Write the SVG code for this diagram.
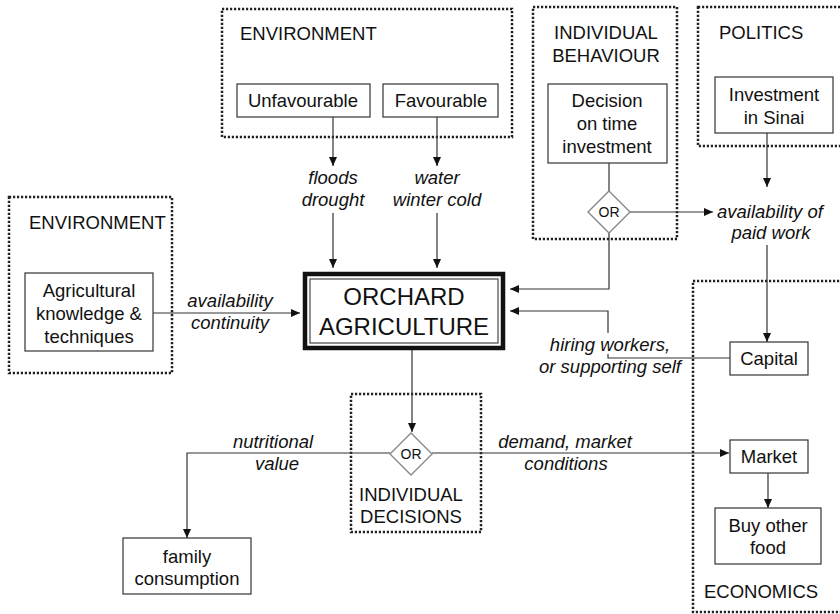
<svg xmlns="http://www.w3.org/2000/svg" width="840" height="614" viewBox="0 0 840 614">
<defs>
<style>
.grp{fill:none;stroke:#222;stroke-width:2.5;stroke-dasharray:2.2 1.8}
.box{fill:#fff;stroke:#333;stroke-width:1.2}
.dia{fill:#fff;stroke:#888;stroke-width:1.4}
.t{font-family:"Liberation Sans",Arial,sans-serif;font-size:18.5px;fill:#111}
.c{text-anchor:middle}
.i{font-style:italic}
.or{font-family:"Liberation Sans",Arial,sans-serif;font-size:14px;fill:#111;text-anchor:middle}
.big{font-family:"Liberation Sans",Arial,sans-serif;font-size:24px;fill:#111;text-anchor:middle}
.ln{fill:none;stroke:#333;stroke-width:1.2}
.ar{fill:none;stroke:#333;stroke-width:1.2;marker-end:url(#ah)}
</style>
<marker id="ah" markerUnits="userSpaceOnUse" markerWidth="10" markerHeight="10" viewBox="0 0 10 10" refX="9" refY="5" orient="auto">
<path d="M0,1 L9,5 L0,9 z" fill="#111"/>
</marker>
</defs>
<rect width="840" height="614" fill="#fff"/>

<g id="group-environment-top">
<rect class="grp" x="222" y="9" width="290" height="128"/>
<text class="t" x="240" y="40">ENVIRONMENT</text>
</g>
<g id="group-individual-behaviour">
<rect class="grp" x="533" y="7" width="144" height="232"/>
<text class="t c" x="606" y="39">INDIVIDUAL</text>
<text class="t c" x="606" y="62">BEHAVIOUR</text>
</g>
<g id="group-politics">
<rect class="grp" x="698" y="7" width="160" height="139"/>
<text class="t" x="719" y="39">POLITICS</text>
</g>
<g id="group-environment-left">
<rect class="grp" x="9" y="197" width="163" height="176"/>
<text class="t" x="29" y="229">ENVIRONMENT</text>
</g>
<g id="group-individual-decisions">
<rect class="grp" x="351" y="394" width="130" height="138"/>
<text class="t c" x="411" y="501">INDIVIDUAL</text>
<text class="t c" x="411" y="523">DECISIONS</text>
</g>
<g id="group-economics">
<rect class="grp" x="693" y="281" width="165" height="331"/>
<text class="t" x="704" y="598">ECONOMICS</text>
</g>

<g id="connectors">
<line class="ar" x1="333" y1="117" x2="333" y2="166"/>
<line class="ar" x1="437" y1="117" x2="437" y2="166"/>
<line class="ar" x1="333" y1="213" x2="333" y2="268"/>
<line class="ar" x1="437" y1="213" x2="437" y2="268"/>
<line class="ar" x1="153" y1="313" x2="300" y2="313"/>
<line class="ln" x1="609" y1="163" x2="609" y2="191"/>
<line class="ar" x1="630" y1="212" x2="713" y2="212"/>
<polyline class="ar" points="609,233 609,289 510,289"/>
<line class="ar" x1="767" y1="133" x2="767" y2="187"/>
<line class="ar" x1="767" y1="245" x2="767" y2="342"/>
<polyline class="ar" points="730,358 608,358 608,311 510,311"/>
<line class="ar" x1="412" y1="350" x2="412" y2="432"/>
<polyline class="ar" points="390,453 187,453 187,538"/>
<line class="ar" x1="432" y1="453" x2="729" y2="453"/>
<line class="ar" x1="768" y1="473" x2="768" y2="508"/>
</g>

<g id="labels">
<text class="t c i" x="333" y="184">floods</text>
<text class="t c i" x="333" y="206">drought</text>
<text class="t c i" x="437" y="184">water</text>
<text class="t c i" x="437" y="206">winter cold</text>
<text class="t c i" x="230" y="307">availability</text>
<text class="t c i" x="230" y="329">continuity</text>
<text class="t i" x="717" y="218">availability of</text>
<text class="t c i" x="771" y="239">paid work</text>
<rect x="544" y="333" width="132" height="21" fill="#fff"/>
<text class="t c i" x="610" y="351">hiring workers,</text>
<text class="t c i" x="610" y="373">or supporting self</text>
<text class="t c i" x="273" y="448">nutritional</text>
<text class="t c i" x="277" y="470">value</text>
<text class="t c i" x="565" y="448">demand, market</text>
<text class="t c i" x="566" y="470">conditions</text>
</g>

<g id="node-unfavourable">
<rect class="box" x="237" y="84" width="133" height="33"/>
<text class="t c" x="303" y="107">Unfavourable</text>
</g>
<g id="node-favourable">
<rect class="box" x="383" y="84" width="115" height="33"/>
<text class="t c" x="441" y="107">Favourable</text>
</g>
<g id="node-decision">
<rect class="box" x="548" y="84" width="119" height="79"/>
<text class="t c" x="607" y="107">Decision</text>
<text class="t c" x="607" y="130">on time</text>
<text class="t c" x="607" y="153">investment</text>
</g>
<g id="node-or-top">
<polygon class="dia" points="609,191 630,212 609,233 588,212"/>
<text class="or" x="609" y="217">OR</text>
</g>
<g id="node-investment">
<rect class="box" x="715" y="77" width="118" height="56"/>
<text class="t c" x="774" y="101">Investment</text>
<text class="t c" x="774" y="124">in Sinai</text>
</g>
<g id="node-agricultural">
<rect class="box" x="25" y="273" width="128" height="78"/>
<text class="t c" x="89" y="297">Agricultural</text>
<text class="t c" x="89" y="320">knowledge &amp;</text>
<text class="t c" x="89" y="343">techniques</text>
</g>
<g id="node-orchard">
<rect x="305" y="274" width="198" height="74" fill="#fff" stroke="#111" stroke-width="4.5"/>
<rect x="310" y="279" width="188" height="64" fill="none" stroke="#555" stroke-width="1.3"/>
<text class="big" x="404" y="305">ORCHARD</text>
<text class="big" x="404" y="335">AGRICULTURE</text>
</g>
<g id="node-capital">
<rect class="box" x="730" y="342" width="78" height="33"/>
<text class="t c" x="769" y="365">Capital</text>
</g>
<g id="node-or-bottom">
<polygon class="dia" points="411,433 432,454 411,475 390,454"/>
<text class="or" x="411" y="459">OR</text>
</g>
<g id="node-family">
<rect class="box" x="123" y="538" width="128" height="56"/>
<text class="t c" x="187" y="563">family</text>
<text class="t c" x="187" y="585">consumption</text>
</g>
<g id="node-market">
<rect class="box" x="730" y="440" width="78" height="33"/>
<text class="t c" x="769" y="463">Market</text>
</g>
<g id="node-buy">
<rect class="box" x="715" y="508" width="106" height="56"/>
<text class="t c" x="768" y="532">Buy other</text>
<text class="t c" x="768" y="554">food</text>
</g>
</svg>
